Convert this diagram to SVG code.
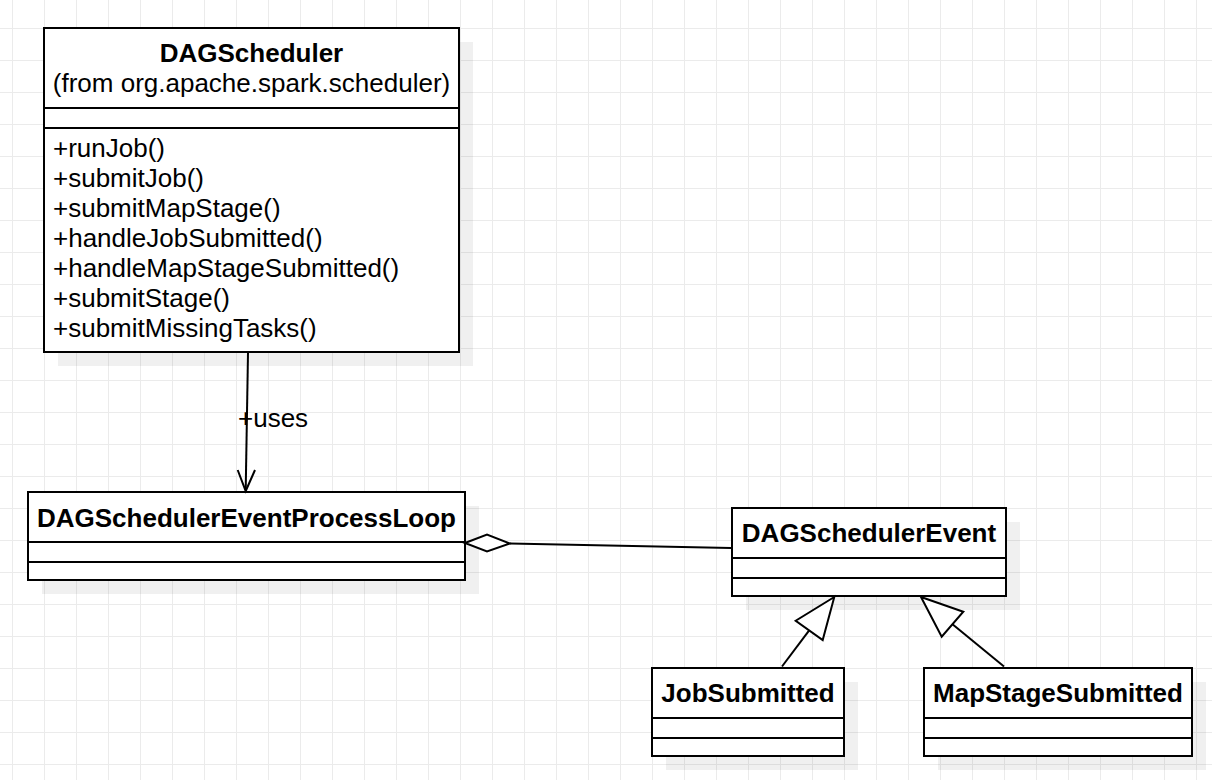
<svg xmlns="http://www.w3.org/2000/svg" width="1212" height="780" viewBox="0 0 1212 780">
<defs>
<pattern id="grid" patternUnits="userSpaceOnUse" x="12" y="28" width="32" height="32">
<rect x="0" y="0" width="1" height="32" fill="#ebebeb"/>
<rect x="0" y="0" width="32" height="1" fill="#ebebeb"/>
</pattern>
<style>
.box{fill:#ffffff;stroke:#000000;stroke-width:2}
.shadow{fill:#000000;fill-opacity:0.06;stroke:none}
.div{stroke:#000000;stroke-width:2}
.title{font-family:"Liberation Sans",Arial,sans-serif;font-size:26px;font-weight:bold;fill:#000000;text-anchor:middle}
.txt{font-family:"Liberation Sans",Arial,sans-serif;font-size:26px;fill:#000000}
.conn{fill:none;stroke:#000000;stroke-width:2}
.head{fill:#ffffff;stroke:#000000;stroke-width:2;stroke-linejoin:miter}
</style>
</defs>
<rect x="0" y="0" width="1212" height="780" fill="#ffffff"/>
<rect x="0" y="0" width="1212" height="780" fill="url(#grid)"/>

<g id="DAGScheduler">
<rect class="shadow" x="58" y="42" width="415" height="324"/>
<rect class="box" x="44" y="28" width="415" height="324"/>
<line class="div" x1="44" y1="108" x2="459" y2="108"/>
<line class="div" x1="44" y1="128" x2="459" y2="128"/>
<text class="title" x="251.5" y="62">DAGScheduler</text>
<text class="txt" x="251.5" y="91.5" text-anchor="middle">(from org.apache.spark.scheduler)</text>
<text class="txt" x="53" y="157">+runJob()</text>
<text class="txt" x="53" y="187">+submitJob()</text>
<text class="txt" x="53" y="217">+submitMapStage()</text>
<text class="txt" x="53" y="247">+handleJobSubmitted()</text>
<text class="txt" x="53" y="277">+handleMapStageSubmitted()</text>
<text class="txt" x="53" y="307">+submitStage()</text>
<text class="txt" x="53" y="337">+submitMissingTasks()</text>
</g>

<g id="DAGSchedulerEventProcessLoop">
<rect class="shadow" x="42" y="506" width="437" height="88"/>
<rect class="box" x="28" y="492" width="437" height="88"/>
<line class="div" x1="28" y1="542" x2="465" y2="542"/>
<line class="div" x1="28" y1="562" x2="465" y2="562"/>
<text class="title" x="246.5" y="527">DAGSchedulerEventProcessLoop</text>
</g>

<g id="DAGSchedulerEvent">
<rect class="shadow" x="746" y="522" width="274" height="88"/>
<rect class="box" x="732" y="508" width="274" height="88"/>
<line class="div" x1="732" y1="558" x2="1006" y2="558"/>
<line class="div" x1="732" y1="578" x2="1006" y2="578"/>
<text class="title" x="869" y="541.5">DAGSchedulerEvent</text>
</g>

<g id="JobSubmitted">
<rect class="shadow" x="666" y="682" width="192" height="88"/>
<rect class="box" x="652" y="668" width="192" height="88"/>
<line class="div" x1="652" y1="718" x2="844" y2="718"/>
<line class="div" x1="652" y1="738" x2="844" y2="738"/>
<text class="title" x="748" y="701.5">JobSubmitted</text>
</g>

<g id="MapStageSubmitted">
<rect class="shadow" x="938" y="682" width="268" height="88"/>
<rect class="box" x="924" y="668" width="268" height="88"/>
<line class="div" x1="924" y1="718" x2="1192" y2="718"/>
<line class="div" x1="924" y1="738" x2="1192" y2="738"/>
<text class="title" x="1058" y="701.5">MapStageSubmitted</text>
</g>

<g id="connectors">
<line class="conn" x1="248" y1="353" x2="245.7" y2="490"/>
<polyline class="conn" points="237.7,470 245.7,491 255,470"/>
<text class="txt" x="238" y="427">+uses</text>

<line class="conn" x1="510" y1="543.5" x2="731" y2="548"/>
<polygon class="head" points="465,543 487,534.5 510,543.5 487,551.5"/>

<line class="conn" x1="782" y1="666.5" x2="809.2" y2="630.3"/>
<polygon class="head" points="834.3,597 795.7,620.7 822.7,640"/>

<line class="conn" x1="1004" y1="666.5" x2="952.5" y2="624.2"/>
<polygon class="head" points="921,597 963.3,611.7 941.7,636.7"/>
</g>
</svg>
